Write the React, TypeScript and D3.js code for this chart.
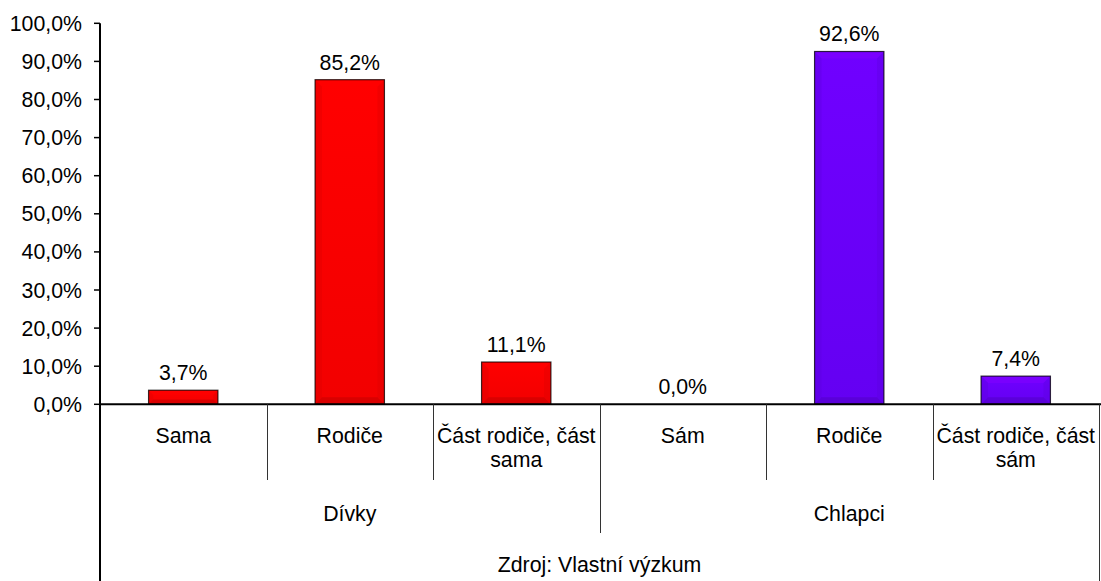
import React from "react";
import * as d3 from "d3";

const categoryLines: string[][] = [
  ["Sama"],
  ["Rodiče"],
  ["Část rodiče, část", "sama"],
  ["Sám"],
  ["Rodiče"],
  ["Část rodiče, část", "sám"],
];
const groups = ["Dívky", "Chlapci"];
const groupOf = [0, 0, 0, 1, 1, 1];
const values = [3.7, 85.2, 11.1, 0.0, 92.6, 7.4];
const yTicks = [0, 10, 20, 30, 40, 50, 60, 70, 80, 90, 100];
const groupColors = ["#ff0000", "#6a00ff"];
const sourceText = "Zdroj: Vlastní výzkum";

const W = 1101;
const H = 581;
const left = 100;
const right = 1099;
const top = 23.3;
const bottom = 404.3;
const FONT = "'Liberation Sans', Arial, sans-serif";
const FS = 21.3;

const fmt = (v: number) => v.toFixed(1).replace(".", ",") + "%";

function shade(c: string, k: number) {
  const col = d3.color(c)!;
  return k > 0 ? col.brighter(k).formatHex() : col.darker(-k).formatHex();
}

export default function App() {
  const idx = values.map((_, i) => i);
  const x = d3.scaleBand<number>().domain(idx).range([left, right]).paddingInner(0).paddingOuter(0);
  const y = d3.scaleLinear().domain([0, 100]).range([bottom, top]);
  const gx = d3.scaleBand<number>().domain([0, 1]).range([left, right]);
  const bw = x.bandwidth();
  const barW = bw / 2.4;

  return (
    <svg width={W} height={H} style={{ position: "absolute", left: 0, top: 0 }} fontFamily={FONT}>
      <rect width={W} height={H} fill="#fff" />
      <defs>
        {groupColors.map((c, gi) => (
          <linearGradient key={gi} id={`g${gi}`} x1="0" y1="0" x2="0" y2="1">
            <stop offset="0" stopColor={shade(c, 0.15)} />
            <stop offset="1" stopColor={shade(c, -0.15)} />
          </linearGradient>
        ))}
      </defs>
      {values.map((v, i) => {
        const x0 = (x(i) as number) + (bw - barW) / 2;
        const y0 = y(v);
        const h = bottom - y0;
        const c = groupColors[groupOf[i]];
        if (h < 0.5) return null;
        const b = Math.min(7, h / 3, barW / 3);
        const x1 = x0 + barW;
        const y1 = bottom;
        return (
          <g key={i}>
            <rect x={x0} y={y0} width={barW} height={h} fill={`url(#g${groupOf[i]})`} />
            <polygon points={`${x0},${y0} ${x1},${y0} ${x1 - b},${y0 + b} ${x0 + b},${y0 + b}`} fill={shade(c, 0.6)} opacity={0.55} />
            <polygon points={`${x0},${y0} ${x0 + b},${y0 + b} ${x0 + b},${y1 - b} ${x0},${y1}`} fill={shade(c, -0.4)} opacity={0.35} />
            <polygon points={`${x1},${y0} ${x1 - b},${y0 + b} ${x1 - b},${y1 - b} ${x1},${y1}`} fill={shade(c, -0.4)} opacity={0.35} />
            <polygon points={`${x0},${y1} ${x0 + b},${y1 - b} ${x1 - b},${y1 - b} ${x1},${y1}`} fill={shade(c, -0.8)} opacity={0.5} />
            <rect x={x0} y={y0} width={barW} height={h} fill="none" stroke="#000" strokeOpacity={0.75} strokeWidth={1.2} />
          </g>
        );
      })}
      {values.map((v, i) => (
        <text key={i} x={(x(i) as number) + bw / 2} y={y(v) - 10} textAnchor="middle" fontSize={FS} fill="#000">
          {fmt(v)}
        </text>
      ))}
      <line x1={left} x2={left} y1={top} y2={H} stroke="#000" strokeWidth={2} />
      {yTicks.map((t) => (
        <g key={t}>
          <line x1={left - 6} x2={left} y1={y(t)} y2={y(t)} stroke="#000" strokeWidth={1.5} />
          <text x={left - 18} y={y(t) + 7.5} textAnchor="end" fontSize={FS} fill="#000">
            {fmt(t)}
          </text>
        </g>
      ))}
      <line x1={left} x2={right + 2} y1={bottom} y2={bottom} stroke="#000" strokeWidth={2} />
      {idx.slice(1).map((i) => {
        const xx = Math.round(x(i) as number) + 0.5;
        const isGroup = groupOf[i] !== groupOf[i - 1];
        return <line key={i} x1={xx} x2={xx} y1={bottom} y2={isGroup ? 533 : 480} stroke="#333" strokeWidth={1} />;
      })}
      <line x1={right + 0.5} x2={right + 0.5} y1={bottom} y2={H} stroke="#333" strokeWidth={1} />
      {categoryLines.map((lines, i) => (
        <text key={i} x={(x(i) as number) + bw / 2} textAnchor="middle" fontSize={FS} fill="#000">
          {lines.map((l, j) => (
            <tspan key={j} x={(x(i) as number) + bw / 2} y={443 + j * 24}>
              {l}
            </tspan>
          ))}
        </text>
      ))}
      {groups.map((g, gi) => (
        <text key={g} x={(gx(gi) as number) + gx.bandwidth() / 2} y={521} textAnchor="middle" fontSize={FS} fill="#000">
          {g}
        </text>
      ))}
      <text x={(left + right) / 2} y={572} textAnchor="middle" fontSize={FS} fill="#000">
        {sourceText}
      </text>
    </svg>
  );
}
